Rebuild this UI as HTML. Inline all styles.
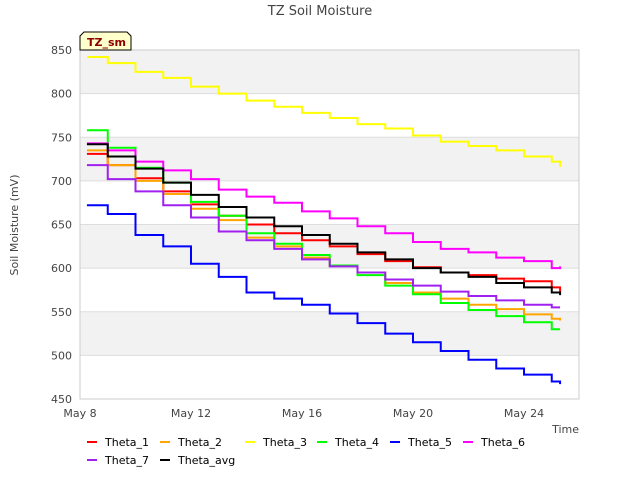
<!DOCTYPE html>
<html><head><meta charset="utf-8"><style>
body{margin:0;background:#fff;font-family:"Liberation Sans","DejaVu Sans",sans-serif}
text{font-family:"DejaVu Sans","Liberation Sans",sans-serif}
</style></head><body>
<svg id="c" width="640" height="480" xmlns="http://www.w3.org/2000/svg">
<text x="320" y="15" text-anchor="middle" font-size="13" fill="#444">TZ Soil Moisture</text>
<g id="plot"></g>
<text transform="translate(18,225) rotate(-90)" text-anchor="middle" font-size="11" fill="#444">Soil Moisture (mV)</text>
<text x="579" y="433" text-anchor="end" font-size="11" fill="#444">Time</text>
<g>
<polygon points="84,32 127,32 131,36 131,50 80,50 80,36" fill="#ffffcc" stroke="#000" stroke-width="1"/>
<text x="87" y="46" font-size="11" font-weight="bold" fill="#8b0000">TZ_sm</text>
</g>
<g id="legend"></g>
</svg>
<script>
const days=[0.25,1,2,3,4,5,6,7,8,9,10,11,12,13,14,15,16,17,17.3];
const names=["Theta_1","Theta_2","Theta_3","Theta_4","Theta_5","Theta_6","Theta_7","Theta_avg"];
const theta1=[731,718,703,688,673,660,650,640,632,625,616,608,601,595,592,588,585,578,571];
const theta2=[735,718,700,685,668,655,635,625,612,603,595,583,572,565,558,553,547,542,540];
const theta3=[842,835,825,818,808,800,792,785,778,772,765,760,752,745,740,735,728,722,716];
const theta4=[758,738,715,698,676,660,640,628,615,603,592,580,570,560,552,545,538,530,530];
const theta5=[672,662,638,625,605,590,572,565,558,548,537,525,515,505,495,485,478,470,467];
const theta6=[743,735,722,712,702,690,682,675,665,657,648,640,630,622,618,612,608,600,602];
const theta7=[718,702,688,672,658,642,632,622,610,602,595,587,580,573,568,563,558,555,555];
const thetaAvg=[742,728,714,698,684,670,658,648,638,628,618,610,600,595,590,583,578,572,569];
const yTicks=[450,500,550,600,650,700,750,800,850];
const xTickLabels=["May 8","May 12","May 16","May 20","May 24"];
const xTickDays=[0,4,8,12,16];
const series=[theta1,theta2,theta3,theta4,theta5,theta6,theta7,thetaAvg];
const colors=["#ff0000","#ffa500","#ffff00","#00ff00","#0000ff","#ff00ff","#a020f0","#000000"];
const L=80,R=579,T=50,B=399,NS="http://www.w3.org/2000/svg";
const xs=d=>L+d*27.75, ys=v=>B-(v-450)*(B-T)/400;
const plot=document.getElementById('plot');
function mk(t,a,p){const e=document.createElementNS(NS,t);for(const k in a)e.setAttribute(k,a[k]);(p||plot).appendChild(e);return e;}
for(let i=0;i<yTicks.length-1;i++){if(i%2==1){const r=mk('rect',{x:L,y:ys(yTicks[i+1]),width:R-L,height:ys(yTicks[i])-ys(yTicks[i+1]),fill:'#f2f2f2'});}}
yTicks.forEach(v=>{const g=mk('line',{x1:L,x2:R,y1:ys(v),y2:ys(v),stroke:'#dddddd'});
const t=mk('text',{x:L-8,y:ys(v)+4,'text-anchor':'end','font-size':'11',fill:'#444'});t.textContent=v;});
const fr=mk('rect',{x:L,y:T,width:R-L,height:B-T,fill:'none',stroke:'#cccccc'});
xTickDays.forEach((d,i)=>{const t=mk('text',{x:xs(d),y:B+18,'text-anchor':'middle','font-size':'11',fill:'#444'});t.textContent=xTickLabels[i];});
series.forEach((s,i)=>{let pts=[];for(let j=0;j<s.length;j++){if(j>0)pts.push(xs(days[j])+','+ys(s[j-1]));pts.push(xs(days[j])+','+ys(s[j]));}
const p=mk('polyline',{points:pts.join(' '),fill:'none',stroke:colors[i],'stroke-width':'2'});});
const leg=document.getElementById('legend');
const lx=[87,160,245,317,390,463,87,160],ly=[443,443,443,443,443,443,461,461];
names.forEach((n,i)=>{const g=mk('g',{},leg);
mk('line',{x1:lx[i],x2:lx[i]+10,y1:ly[i]-1,y2:ly[i]-1,stroke:colors[i],'stroke-width':'2'},g);
const t=mk('text',{x:lx[i]+18,y:ly[i]+3,'font-size':'11',fill:'#000'},g);t.textContent=n;});
</script>
</body></html>
